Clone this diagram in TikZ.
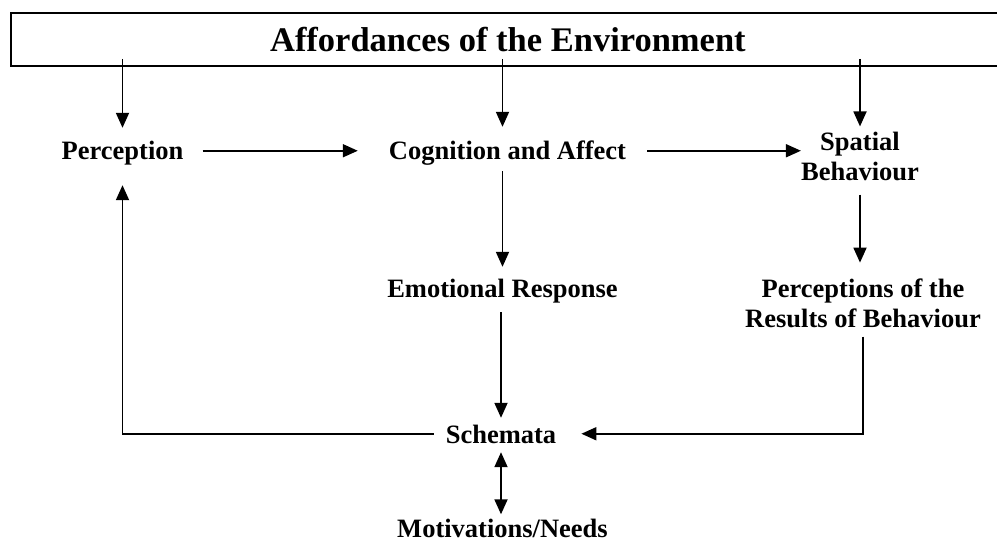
\documentclass[tikz,border=0pt]{standalone}
\usepackage{fontspec}
\setmainfont{Liberation Serif}
\usetikzlibrary{arrows.meta}

\tikzset{
  lbl/.style={font=\fontsize{26.5}{30}\selectfont\bfseries, inner sep=0pt,
              text height=18.5pt, text depth=0pt, anchor=base},
  lbl2/.style={font=\fontsize{26.5}{30}\selectfont\bfseries, inner sep=0pt,
              align=center},
  titlebox/.style={draw, line width=1.8pt, inner sep=0pt,
              minimum width=994pt, minimum height=53pt,
              font=\fontsize{34.5}{40}\selectfont\bfseries,
              text height=23.8pt, text depth=0pt},
  tip/.tip={Triangle[length=15pt,width=13pt]},
  arr/.style={line width=1.8pt, -tip},
  dblarr/.style={line width=1.8pt, tip-tip},
}

\begin{document}
\begin{tikzpicture}[x=1pt, y=-1pt]
  \clip (0,0) rectangle (997,543);
  \fill[white] (0,0) rectangle (997,543);

  % banner across the top
  \node[titlebox, anchor=north west] (title) at (10,12) {Affordances of the Environment};

  % labels
  \node[lbl] (perc)  at (122.5,160) {Perception};
  \node[lbl] (cog)   at (507.5,160) {Cognition and Affect};
  \node[lbl] (emo)   at (502.5,297) {Emotional Response};
  \node[lbl] (schem) at (501,443)   {Schemata};
  \node[lbl] (motiv) at (502.5,537) {Motivations/Needs};
  \node[lbl2] (spat) at (860,156)   {Spatial\\Behaviour};
  \node[lbl2] (res)  at (863,303)   {Perceptions of the\\Results of Behaviour};

  % arrows from the banner
  \draw[arr, shorten <=-8pt, shorten >=13.5pt] (title.south -| perc) -- (perc.north);
  \draw[arr, shorten <=-8pt, shorten >=14.5pt] (title.south -| emo) -- (cog.north -| emo);
  \draw[arr, shorten <=-8pt, shorten >=5pt] (title.south -| spat) -- (spat.north);

  % top row
  \draw[arr, shorten <=19pt, shorten >=31pt] (perc.east) -- (cog.west);
  \draw[arr, shorten <=21pt] (cog.east) -- (cog.east -| spat.west);

  % downward arrows
  \draw[arr, shorten <=11pt, shorten >=11.5pt] (cog.south -| emo) -- (emo.north);
  \draw[arr, shorten <=14pt, shorten >=15.7pt] (spat.south) -- (spat.south |- res.north);
  \draw[arr, shorten <=15pt, shorten >=6.5pt] (emo.south -| schem) -- (schem.north);

  % feedback paths
  \draw[arr, shorten <=9pt, shorten >=25pt] (res.south) -- (res.south |- schem.east) -- (schem.east);
  \draw[arr, shorten <=12pt, shorten >=25pt] (schem.west) -- (schem.west -| perc) -- (perc.south);

  % schemata and motivations
  \draw[dblarr, shorten <=9pt, shorten >=4pt] (schem.south) -- (schem.south |- motiv.north);
\end{tikzpicture}
\end{document}
